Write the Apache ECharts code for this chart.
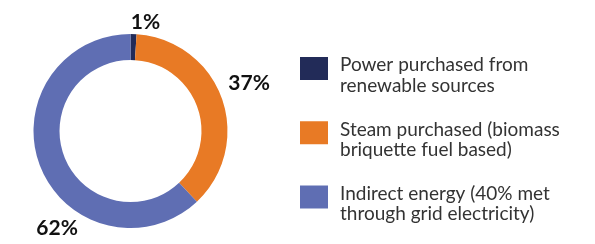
<!DOCTYPE html>
<html>
<head>
<meta charset="utf-8">
<script src="https://cdn.jsdelivr.net/npm/echarts@6/dist/echarts.min.js"></script>
<style>
  html, body { margin: 0; padding: 0; background: #fff; }
  #chart { width: 595px; height: 244px; }
</style>
</head>
<body>
<div id="chart"></div>
<script>
const categories = [
  "Power purchased from\nrenewable sources",
  "Steam purchased (biomass\nbriquette fuel based)",
  "Indirect energy (40% met\nthrough grid electricity)"
]
const values = [1, 37, 62]
const colors = ["#222b58", "#e87a25", "#5f6eb3"]

// nudges for the percentage labels, relative to the default outside spot
const labelNudge = [[-8, -4], [-6, -12], [50, 59]]

const chart = echarts.init(document.getElementById("chart"))
chart.setOption({
  animation: false,
  color: colors,
  legend: {
    orient: "vertical",
    left: 300,
    top: 44,
    padding: 0,
    itemWidth: 28,
    itemHeight: 23,
    itemGap: 13,
    icon: "rect",
    // spacer line on top so the first text line sits level with the swatch
    formatter: (name) => "{e| }\n" + name.split("\n").map((s) => "{t|" + s + "}").join("\n"),
    textStyle: {
      padding: [0, 0, 0, 7],
      rich: {
        e: { fontSize: 8, lineHeight: 14 },
        t: { fontFamily: "Lato", fontSize: 19, lineHeight: 20.5, color: "#333" }
      }
    },
    data: categories
  },
  series: [
    {
      type: "pie",
      center: [130.5, 131],
      radius: [71, 97],
      startAngle: 90,
      clockwise: true,
      silent: true,
      label: {
        show: true,
        position: "outside",
        formatter: "{d}%",
        fontFamily: "Lato",
        fontWeight: "bold",
        fontSize: 21,
        color: "#111",
        overflow: "none"
      },
      labelLine: { show: false, length: 8, length2: 0 },
      labelLayout: (p) => ({ dx: labelNudge[p.dataIndex][0], dy: labelNudge[p.dataIndex][1] }),
      data: categories.map((name, i) => ({ name, value: values[i] }))
    }
  ]
})
</script>
</body>
</html>
